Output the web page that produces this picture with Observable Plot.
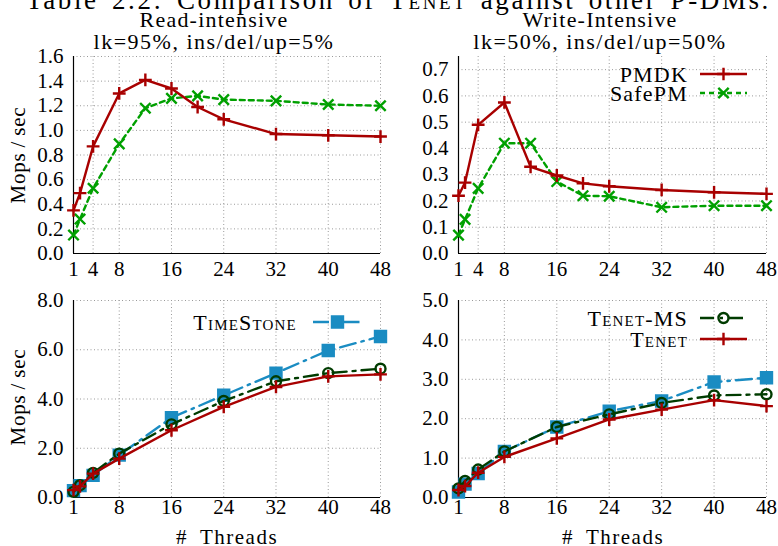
<!DOCTYPE html>
<html><head><meta charset="utf-8">
<script src="https://cdn.jsdelivr.net/npm/d3@7"></script>
<script src="https://cdn.jsdelivr.net/npm/@observablehq/plot@0.6"></script>
<style>
html,body{margin:0;padding:0;background:#fff;}
#root{position:relative;width:778px;height:546px;overflow:hidden;font-family:"Liberation Serif",serif;color:#000;}
.panel{position:absolute;}
#root svg text, #root svg tspan{font-family:"Liberation Serif",serif !important;}
#title{position:absolute;left:26px;top:-13px;width:770px;font-size:27px;line-height:27px;white-space:nowrap;letter-spacing:2.6px;word-spacing:4px;}
#title .sc{font-variant:small-caps;}
</style></head><body><div id="root"><div id="title"></div></div>
<script>
// ---- data ----
const threadsTop = [1, 2, 4, 8, 12, 16, 20, 24, 32, 40, 48];
const threadsBottom = [1, 2, 4, 8, 16, 24, 32, 40, 48];

const readPMDK   = [0.35, 0.49, 0.87, 1.30, 1.41, 1.34, 1.19, 1.09, 0.97, 0.96, 0.95];
const readSafePM = [0.15, 0.28, 0.53, 0.89, 1.18, 1.26, 1.28, 1.25, 1.24, 1.21, 1.20];
const writePMDK   = [0.22, 0.27, 0.49, 0.575, 0.33, 0.297, 0.267, 0.256, 0.242, 0.233, 0.227];
const writeSafePM = [0.07, 0.13, 0.248, 0.42, 0.42, 0.274, 0.22, 0.218, 0.176, 0.182, 0.182];

const readTimeStone = [0.28, 0.48, 0.90, 1.72, 3.24, 4.15, 5.05, 5.97, 6.54];
const readTenetMS   = [0.23, 0.50, 1.00, 1.78, 2.97, 3.92, 4.72, 5.05, 5.23];
const readTenet     = [0.30, 0.45, 0.97, 1.58, 2.73, 3.68, 4.49, 4.92, 5.00];
const writeTimeStone = [0.14, 0.34, 0.61, 1.17, 1.79, 2.19, 2.45, 2.93, 3.04];
const writeTenetMS   = [0.23, 0.42, 0.71, 1.17, 1.79, 2.11, 2.40, 2.59, 2.62];
const writeTenet     = [0.19, 0.29, 0.63, 1.03, 1.50, 1.98, 2.23, 2.47, 2.32];

const topXTicks = [1, 4, 8, 16, 24, 32, 40, 48];
const bottomXTicks = [1, 8, 16, 24, 32, 40, 48];
const readYTicks = [0, 0.2, 0.4, 0.6, 0.8, 1.0, 1.2, 1.4, 1.6];
const writeYTicks = [0, 0.1, 0.2, 0.3, 0.4, 0.5, 0.6, 0.7];
const readBigYTicks = [0, 2, 4, 6, 8];
const writeBigYTicks = [0, 1, 2, 3, 4, 5];

const titleText = "Table 2.2: Comparison of ";
const titleName = "Tenet";
const titleRest = " against other P-DMs.";
const subTop = ["Read-intensive", "Write-Intensive"];
const subBottom = ["lk=95%, ins/del/up=5%", "lk=50%, ins/del/up=50%"];
const yLabel = "Mops\u2009/\u2009sec";
const xLabel = "#\u2002Threads";

// ---- styles ----
const FONT = '"Liberation Serif", serif';
const RED = "#a80000", GREEN = "#00a000", BLUE = "#1a8cc2", DKGREEN = "#003c00";
const style = {
  PMDK:      {color: RED,     dash: null,          symbol: "plus",   r: 4.2, size: 55,  fill: "none"},
  SafePM:    {color: GREEN,   dash: "5,4",         symbol: "times",  r: 4.8, size: 72,  fill: "none"},
  TimeStone: {color: BLUE,    dash: "16,6,2.5,6",  symbol: "square", r: 6.2, size: 121, fill: BLUE},
  "Tenet-MS":{color: DKGREEN, dash: "14,6,3,6",    symbol: "circle", r: 5,   size: 79,  fill: "none"},
  Tenet:     {color: RED,     dash: null,          symbol: "plus",   r: 4.2, size: 55,  fill: "none"}
};
const d3sym = {plus: d3.symbolPlus, times: d3.symbolTimes, square: d3.symbolSquare, circle: d3.symbolCircle};

const root = document.getElementById("root");

function panel(cfg) {
  const marks = [
    Plot.ruleX(cfg.xTicks.filter(d => d > cfg.xTicks[0]), {stroke: "#9a9a9a", strokeWidth: 1, strokeDasharray: "1,2.5"}),
    Plot.ruleY(cfg.yTicks.filter(d => d > 0), {stroke: "#9a9a9a", strokeWidth: 1, strokeDasharray: "1,2.5"}),
    Plot.ruleX([1], {stroke: "#000", strokeWidth: 1.2}),
    Plot.ruleY([0], {stroke: "#000", strokeWidth: 1.2}),
    Plot.axisX({ticks: cfg.xTicks, tickSize: 0, tickPadding: cfg.xPad, tickFormat: d => String(d), label: null, fontFamily: FONT}),
    Plot.axisY({ticks: cfg.yTicks, tickSize: 0, tickPadding: 10, tickFormat: d3.format(".1f"), label: null, fontFamily: FONT})
  ];
  for (const s of cfg.series) {
    const st = style[s.name];
    const rows = s.x.map((t, i) => ({t, v: s.y[i]}));
    marks.push(Plot.line(rows, {x: "t", y: "v", stroke: st.color, strokeWidth: 2.4, strokeDasharray: st.dash}));
    marks.push(Plot.dot(rows, {x: "t", y: "v", symbol: st.symbol, r: st.r, stroke: st.color, strokeWidth: 2.4, fill: st.fill}));
  }
  const svg = Plot.plot({
    width: cfg.width, height: cfg.height,
    marginLeft: cfg.ml, marginRight: cfg.mr, marginTop: cfg.mt, marginBottom: cfg.mb,
    x: {domain: [1, 48]},
    y: {domain: cfg.yDomain},
    style: {fontSize: "21px", background: "transparent", overflow: "visible"},
    marks
  });
  svg.setAttribute("font-family", FONT);
  svg.style.fontFamily = FONT;
  svg.classList.add("panel");
  svg.style.left = cfg.left + "px";
  svg.style.top = cfg.top + "px";
  svg.style.position = "absolute";
  root.appendChild(svg);
  const g = d3.select(svg).append("g").attr("fill", "#000");
  if (cfg.sub) {
    g.append("text").attr("x", cfg.subX).attr("y", 27).attr("text-anchor", "middle").attr("font-size", 22).attr("letter-spacing", 1.2).text(cfg.sub[0]);
    g.append("text").attr("x", cfg.subX).attr("y", 49).attr("text-anchor", "middle").attr("font-size", 22).attr("letter-spacing", 1.5).text(cfg.sub[1]);
  }
  if (cfg.yLab) {
    g.append("text").attr("transform", `translate(18,${cfg.yLabY}) rotate(-90)`).attr("text-anchor", "middle").attr("dominant-baseline", "central").attr("font-size", 21).attr("letter-spacing", 0.8).text(yLabel);
  }
  if (cfg.xLab) {
    g.append("text").attr("x", cfg.xLabX).attr("y", 252).attr("text-anchor", "middle").attr("dominant-baseline", "central").attr("font-size", 21).attr("letter-spacing", 1.5).text(xLabel);
  }
  if (cfg.legend) {
    const L = cfg.legend;
    L.names.forEach((name, i) => {
      const st = style[name];
      const y = L.y + i * L.dy;
      g.append("text").attr("x", L.textX).attr("y", y).attr("text-anchor", "end").attr("dominant-baseline", "central")
        .attr("font-size", 22).attr("letter-spacing", 1.2).style("font-variant", name === "PMDK" || name === "SafePM" ? null : "small-caps").text(name);
      g.append("line").attr("x1", L.x1).attr("x2", L.x2).attr("y1", y).attr("y2", y)
        .attr("stroke", st.color).attr("stroke-width", 2.4).attr("stroke-dasharray", st.dash);
      g.append("path").attr("transform", `translate(${(L.x1 + L.x2) / 2},${y})`)
        .attr("d", d3.symbol(d3sym[st.symbol], st.size)())
        .attr("stroke", st.color).attr("stroke-width", 2.4).attr("fill", st.fill);
    });
  }
  svg.querySelectorAll("text").forEach(t => { t.setAttribute("font-family", FONT); t.style.fontFamily = FONT; });
}

panel({left: 0, top: 0, width: 390, height: 285, ml: 73, mr: 10, mt: 56, mb: 32, xPad: 8,
  xTicks: topXTicks, yTicks: readYTicks, yDomain: [0, 1.6],
  series: [{name: "SafePM", x: threadsTop, y: readSafePM}, {name: "PMDK", x: threadsTop, y: readPMDK}],
  sub: [subTop[0], subBottom[0]], subX: 214, yLab: true, yLabY: 155});

panel({left: 390, top: 0, width: 388, height: 285, ml: 68, mr: 12, mt: 56, mb: 32, xPad: 8,
  xTicks: topXTicks, yTicks: writeYTicks, yDomain: [0, 0.75],
  series: [{name: "SafePM", x: threadsTop, y: writeSafePM}, {name: "PMDK", x: threadsTop, y: writePMDK}],
  sub: [subTop[1], subBottom[1]], subX: 210,
  legend: {names: ["PMDK", "SafePM"], y: 74, dy: 19, textX: 298, x1: 310, x2: 357}});

panel({left: 0, top: 285, width: 390, height: 261, ml: 73, mr: 10, mt: 15, mb: 49, xPad: 2,
  xTicks: bottomXTicks, yTicks: readBigYTicks, yDomain: [0, 8],
  series: [{name: "TimeStone", x: threadsBottom, y: readTimeStone}, {name: "Tenet-MS", x: threadsBottom, y: readTenetMS}, {name: "Tenet", x: threadsBottom, y: readTenet}],
  yLab: true, yLabY: 112, xLab: true, xLabX: 227,
  legend: {names: ["TimeStone"], y: 37, dy: 20, textX: 297, x1: 313, x2: 362}});

panel({left: 390, top: 285, width: 388, height: 261, ml: 68, mr: 12, mt: 15, mb: 49, xPad: 2,
  xTicks: bottomXTicks, yTicks: writeBigYTicks, yDomain: [0, 5],
  series: [{name: "TimeStone", x: threadsBottom, y: writeTimeStone}, {name: "Tenet-MS", x: threadsBottom, y: writeTenetMS}, {name: "Tenet", x: threadsBottom, y: writeTenet}],
  xLab: true, xLabX: 223,
  legend: {names: ["Tenet-MS", "Tenet"], y: 33, dy: 21, textX: 298, x1: 310, x2: 357}});

// clipped caption at the very top
const title = d3.select("#title");
title.append("span").text(titleText);
title.append("span").attr("class", "sc").text(titleName);
title.append("span").text(titleRest);
</script></body></html>
